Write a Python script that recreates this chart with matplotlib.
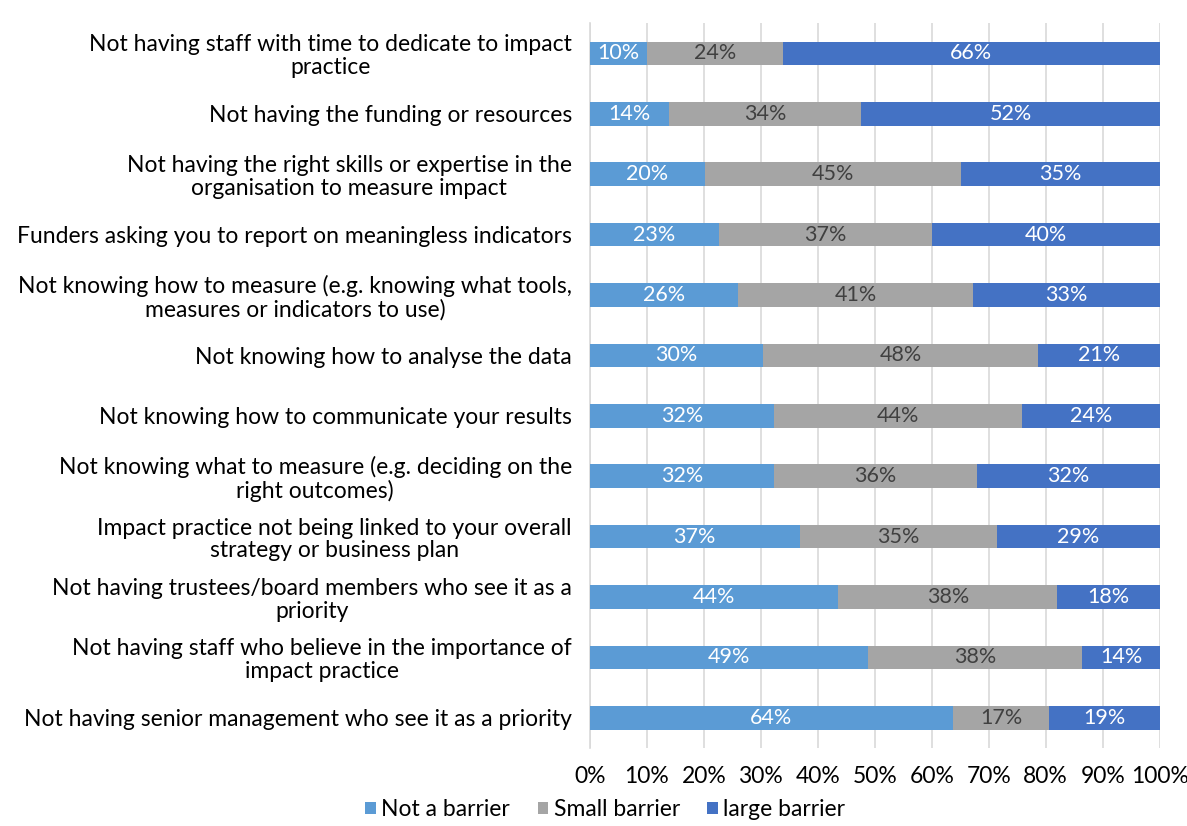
import numpy as np
import matplotlib.pyplot as plt

categories = [
    "Not having staff with time to dedicate to impact\npractice",
    "Not having the funding or resources",
    "Not having the right skills or expertise in the\norganisation to measure impact",
    "Funders asking you to report on meaningless indicators",
    "Not knowing how to measure (e.g. knowing what tools,\nmeasures or indicators to use)",
    "Not knowing how to analyse the data",
    "Not knowing how to communicate your results",
    "Not knowing what to measure (e.g. deciding on the\nright outcomes)",
    "Impact practice not being linked to your overall\nstrategy or business plan",
    "Not having trustees/board members who see it as a\npriority",
    "Not having staff who believe in the importance of\nimpact practice",
    "Not having senior management who see it as a priority",
]
not_barrier = [10.1, 13.9, 20.2, 22.6, 26.0, 30.4, 32.3, 32.3, 36.8, 43.6, 48.8, 63.7]
small_barrier = [23.8, 33.7, 44.9, 37.4, 41.3, 48.2, 43.6, 35.6, 34.6, 38.4, 37.6, 16.9]
large_barrier = [66.1, 52.4, 34.9, 40.0, 32.7, 21.4, 24.1, 32.1, 28.6, 18.0, 13.6, 19.4]

series = [
    ("Not a barrier", not_barrier, "#5B9BD5", "white"),
    ("Small barrier", small_barrier, "#A5A5A5", "#404040"),
    ("large barrier", large_barrier, "#4472C4", "white"),
]

plt.rcParams['font.family'] = ['Lato', 'DejaVu Sans']

fig = plt.figure(figsize=(11.87, 8.26), dpi=100)
ax = fig.add_axes([0.497, 0.0944, 0.48, 0.8776])

y = np.arange(len(categories))
left = np.zeros(len(categories))
for name, vals, color, tcolor in series:
    vals = np.array(vals)
    bars = ax.barh(y, vals, left=left, height=0.39, color=color, label=name, zorder=3)
    for b, v in zip(bars, vals):
        ax.text(b.get_x() + b.get_width() / 2, b.get_y() + b.get_height() / 2,
                f"{v:.0f}%", ha='center', va='center', color=tcolor, fontsize=15.5, zorder=4)
    left += vals

ax.set_ylim(len(categories) - 0.5, -0.5)
ax.set_xlim(0, 100)
ax.set_xticks(np.arange(0, 101, 10))
ax.set_xticklabels([f"{t}%" for t in range(0, 101, 10)], fontsize=16.5)
ax.set_yticks(y)
ax.set_yticklabels(categories, fontsize=16.5, multialignment='center', linespacing=1.1)
ax.tick_params(axis='y', length=0, pad=13)
ax.tick_params(axis='x', length=0, pad=13)
ax.grid(True, axis='x', color='#D9D9D9', linewidth=1.2, zorder=0)
for s in ['top', 'right', 'bottom']:
    ax.spines[s].set_visible(False)
ax.spines['left'].set_color('#D9D9D9')
ax.spines['left'].set_linewidth(1.2)

fig.legend(loc='lower center', bbox_to_anchor=(0.51, -0.012), ncol=3, frameon=False,
           fontsize=16.5, handlelength=0.45, handleheight=0.45, handletextpad=0.25,
           columnspacing=1.2, borderpad=0.2)

fig.savefig('out.png', dpi=100)
